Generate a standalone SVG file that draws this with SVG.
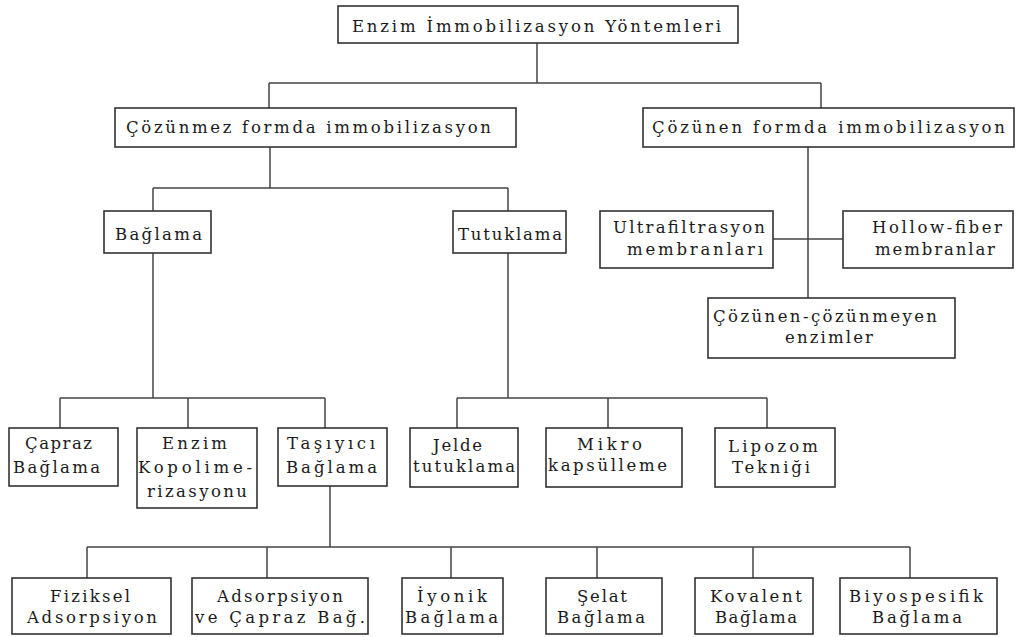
<svg xmlns="http://www.w3.org/2000/svg" width="1016" height="637" viewBox="0 0 1016 637">
<style>
.box{fill:#fff;stroke:#333;stroke-width:1.6}
.ln{fill:none;stroke:#444;stroke-width:1.5}
text{font-family:"DejaVu Serif","Liberation Serif",serif;font-size:16.5px;fill:#1a1a1a}
</style>
<rect width="1016" height="637" fill="#fff"/>
<g id="connectors">
<path class="ln" d="M537 43V83M269 83H821M269 83V108M821 83V108"/>
<path class="ln" d="M270 147V188M153 188H508M153 188V211M508 188V211"/>
<path class="ln" d="M153 253V398M60 398H325M60 398V428M188 398V428M325 398V428"/>
<path class="ln" d="M508 253V398M457 398H767M457 398V428M608 398V428M767 398V428"/>
<path class="ln" d="M330 486V547M87 547H910M87 547V578M267 547V578M451 547V578M597 547V578M753 547V578M910 547V578"/>
<path class="ln" d="M808 147V298M773 239H843"/>
</g>
<g id="root"><rect class="box" x="338" y="6" width="400" height="37"/><text x="352" y="32" textLength="369" lengthAdjust="spacing">Enzim İmmobilizasyon Yöntemleri</text></g>
<g id="cozunmez"><rect class="box" x="115" y="108" width="401" height="39"/><text x="126" y="133" textLength="365" lengthAdjust="spacing">Çözünmez formda immobilizasyon</text></g>
<g id="cozunen"><rect class="box" x="643" y="108" width="371" height="39"/><text x="652" y="133" textLength="353" lengthAdjust="spacing">Çözünen formda immobilizasyon</text></g>
<g id="baglama"><rect class="box" x="104" y="211" width="107" height="42"/><text x="115" y="240" textLength="87" lengthAdjust="spacing">Bağlama</text></g>
<g id="tutuklama"><rect class="box" x="453" y="211" width="113" height="42"/><text x="458" y="240" textLength="104" lengthAdjust="spacing">Tutuklama</text></g>
<g id="ultrafiltrasyon"><rect class="box" x="600" y="211" width="173" height="57"/><text x="613" y="233" textLength="152" lengthAdjust="spacing">Ultrafiltrasyon</text><text x="627" y="255" textLength="136" lengthAdjust="spacing">membranları</text></g>
<g id="hollowfiber"><rect class="box" x="843" y="211" width="170" height="57"/><text x="872" y="233" textLength="130" lengthAdjust="spacing">Hollow-fiber</text><text x="875" y="255" textLength="120" lengthAdjust="spacing">membranlar</text></g>
<g id="cozunencozunmeyen"><rect class="box" x="708" y="298" width="247" height="60"/><text x="713" y="322" textLength="224" lengthAdjust="spacing">Çözünen-çözünmeyen</text><text x="785" y="343" textLength="88" lengthAdjust="spacing">enzimler</text></g>
<g id="capraz"><rect class="box" x="9" y="428" width="109" height="58"/><text x="25" y="449" textLength="67" lengthAdjust="spacing">Çapraz</text><text x="13" y="473" textLength="87" lengthAdjust="spacing">Bağlama</text></g>
<g id="kopolimer"><rect class="box" x="137" y="428" width="120" height="80"/><text x="162" y="449" textLength="65" lengthAdjust="spacing">Enzim</text><text x="138" y="473" textLength="114" lengthAdjust="spacing">Kopolime-</text><text x="147" y="497" textLength="100" lengthAdjust="spacing">rizasyonu</text></g>
<g id="tasiyici"><rect class="box" x="278" y="428" width="109" height="58"/><text x="287" y="449" textLength="88" lengthAdjust="spacing">Taşıyıcı</text><text x="286" y="473" textLength="91" lengthAdjust="spacing">Bağlama</text></g>
<g id="jelde"><rect class="box" x="410" y="428" width="108" height="59"/><text x="433" y="451" textLength="49" lengthAdjust="spacing">Jelde</text><text x="413" y="472" textLength="102" lengthAdjust="spacing">tutuklama</text></g>
<g id="mikro"><rect class="box" x="546" y="428" width="136" height="59"/><text x="577" y="450" textLength="65" lengthAdjust="spacing">Mikro</text><text x="548" y="471" textLength="119" lengthAdjust="spacing">kapsülleme</text></g>
<g id="lipozom"><rect class="box" x="715" y="428" width="120" height="59"/><text x="728" y="452" textLength="90" lengthAdjust="spacing">Lipozom</text><text x="732" y="473" textLength="78" lengthAdjust="spacing">Tekniği</text></g>
<g id="fiziksel"><rect class="box" x="12" y="578" width="159" height="56"/><text x="50" y="602" textLength="80" lengthAdjust="spacing">Fiziksel</text><text x="27" y="623" textLength="130" lengthAdjust="spacing">Adsorpsiyon</text></g>
<g id="adsorpsiyoncapraz"><rect class="box" x="192" y="578" width="176" height="56"/><text x="217" y="602" textLength="126" lengthAdjust="spacing">Adsorpsiyon</text><text x="195" y="623" textLength="170" lengthAdjust="spacing">ve Çapraz Bağ.</text></g>
<g id="iyonik"><rect class="box" x="402" y="578" width="101" height="56"/><text x="417" y="602" textLength="70" lengthAdjust="spacing">İyonik</text><text x="405" y="623" textLength="93" lengthAdjust="spacing">Bağlama</text></g>
<g id="selat"><rect class="box" x="546" y="578" width="116" height="56"/><text x="577" y="602" textLength="50" lengthAdjust="spacing">Şelat</text><text x="557" y="623" textLength="88" lengthAdjust="spacing">Bağlama</text></g>
<g id="kovalent"><rect class="box" x="695" y="578" width="118" height="56"/><text x="710" y="602" textLength="92" lengthAdjust="spacing">Kovalent</text><text x="715" y="623" textLength="82" lengthAdjust="spacing">Bağlama</text></g>
<g id="biyospesifik"><rect class="box" x="840" y="578" width="157" height="56"/><text x="849" y="602" textLength="134" lengthAdjust="spacing">Biyospesifik</text><text x="872" y="623" textLength="90" lengthAdjust="spacing">Bağlama</text></g>
</svg>
